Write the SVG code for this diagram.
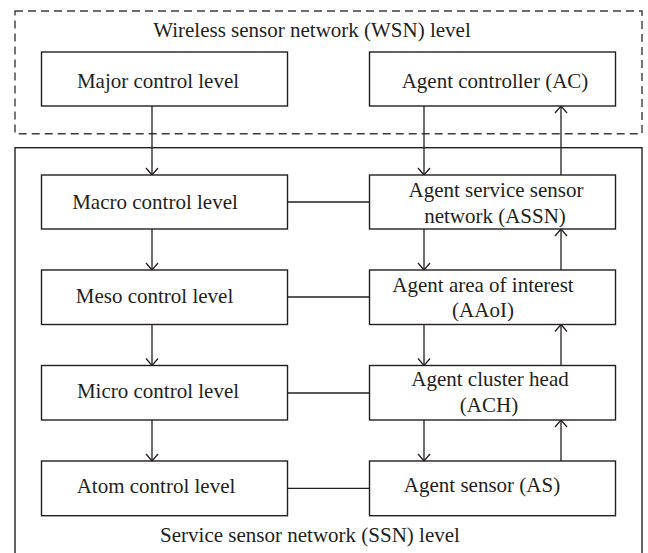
<svg xmlns="http://www.w3.org/2000/svg" width="648" height="553" viewBox="0 0 648 553">
<style>
  .box { fill: #ffffff; stroke: #231f20; stroke-width: 1.4; }
  .lbl { font-family: "Liberation Serif", "Times New Roman", serif; font-size: 21px; fill: #231f20; text-anchor: middle; }
  .con { fill: none; stroke: #231f20; stroke-width: 1.3; }
  .arr { marker-end: url(#head); }
</style>
<defs>
  <marker id="head" markerUnits="userSpaceOnUse" viewBox="-8 -7 9 14" markerWidth="9" markerHeight="14" refX="0" refY="0" orient="auto" overflow="visible">
    <path d="M-7,-6 L0,0 L-7,6" fill="none" stroke="#231f20" stroke-width="1.3"/>
  </marker>
</defs>
<rect width="648" height="553" fill="#ffffff"/>

<g id="wsn-level">
  <rect x="15" y="11" width="627" height="122.7" fill="none" stroke="#3c3c3c" stroke-width="1.4" stroke-dasharray="8 5"/>
  <text class="lbl" x="312" y="37">Wireless sensor network (WSN) level</text>
</g>

<g id="ssn-level">
  <rect x="15" y="147.7" width="627" height="420" fill="none" stroke="#231f20" stroke-width="1.4"/>
  <text class="lbl" x="310" y="542">Service sensor network (SSN) level</text>
</g>

<g id="connectors">
  <path class="con arr" d="M152,106 V175"/>
  <path class="con arr" d="M152,229 V270"/>
  <path class="con arr" d="M152,324.5 V365.5"/>
  <path class="con arr" d="M152,420 V461"/>
  <path class="con arr" d="M424,106 V175"/>
  <path class="con arr" d="M561,175 V106"/>
  <path class="con arr" d="M424,229 V270"/>
  <path class="con arr" d="M561,270 V229"/>
  <path class="con arr" d="M424,324.5 V365.5"/>
  <path class="con arr" d="M561,365.5 V324.5"/>
  <path class="con arr" d="M424,420 V461"/>
  <path class="con arr" d="M561,461 V420"/>
  <path class="con" d="M287.5,202 H369.5"/>
  <path class="con" d="M287.5,297 H369.5"/>
  <path class="con" d="M287.5,393 H369.5"/>
  <path class="con" d="M287.5,488.3 H369.5"/>
</g>

<g id="major">
  <rect class="box" x="41.5" y="52" width="246" height="54"/>
  <text class="lbl" x="158" y="88">Major control level</text>
</g>
<g id="ac">
  <rect class="box" x="369.5" y="52" width="246" height="54"/>
  <text class="lbl" x="495" y="88.3">Agent controller (AC)</text>
</g>
<g id="macro">
  <rect class="box" x="41.5" y="175" width="246" height="54"/>
  <text class="lbl" x="155" y="209.3">Macro control level</text>
</g>
<g id="assn">
  <rect class="box" x="369.5" y="175" width="246" height="54"/>
  <text class="lbl" x="496" y="197.3">Agent service sensor</text>
  <text class="lbl" x="495" y="222.5">network (ASSN)</text>
</g>
<g id="meso">
  <rect class="box" x="41.5" y="270" width="246" height="54.5"/>
  <text class="lbl" x="154.5" y="303.3">Meso control level</text>
</g>
<g id="aaoi">
  <rect class="box" x="369.5" y="270" width="246" height="54.5"/>
  <text class="lbl" x="483" y="291.7">Agent area of interest</text>
  <text class="lbl" x="483" y="316.7">(AAoI)</text>
</g>
<g id="micro">
  <rect class="box" x="41.5" y="365.5" width="246" height="54.5"/>
  <text class="lbl" x="158" y="398">Micro control level</text>
</g>
<g id="ach">
  <rect class="box" x="369.5" y="365.5" width="246" height="54.5"/>
  <text class="lbl" x="490" y="385.7">Agent cluster head</text>
  <text class="lbl" x="489" y="411.5">(ACH)</text>
</g>
<g id="atom">
  <rect class="box" x="41.5" y="461" width="246" height="54.7"/>
  <text class="lbl" x="156" y="492.7">Atom control level</text>
</g>
<g id="as">
  <rect class="box" x="369.5" y="461" width="246" height="54.7"/>
  <text class="lbl" x="482" y="492">Agent sensor (AS)</text>
</g>
</svg>
